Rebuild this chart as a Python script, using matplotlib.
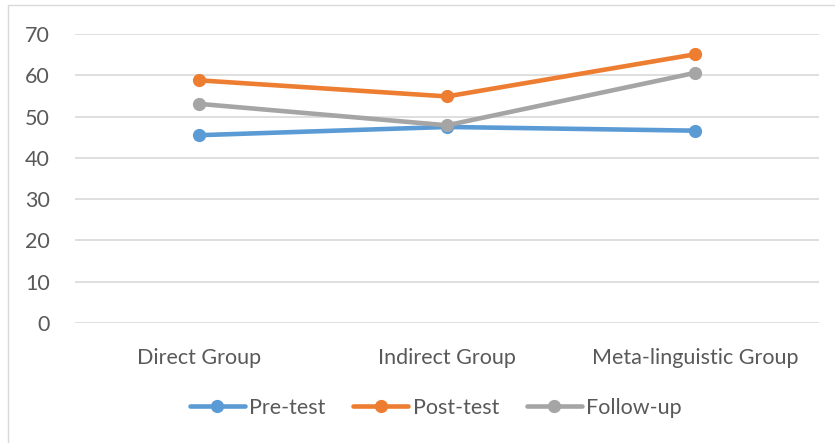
import numpy as np
import matplotlib
matplotlib.use('Agg')
import matplotlib.pyplot as plt
from matplotlib.patches import Rectangle

plt.rcParams['font.family'] = ['Lato', 'DejaVu Sans']

groups = ['Direct Group', 'Indirect Group', 'Meta-linguistic Group']
pre_test = [45.5, 47.5, 46.6]
post_test = [58.8, 54.9, 65.1]
follow_up = [53.1, 47.9, 60.6]

series = [('Pre-test', pre_test, '#5B9BD5'),
          ('Post-test', post_test, '#ED7D31'),
          ('Follow-up', follow_up, '#A5A5A5')]

fig = plt.figure(figsize=(8.35, 4.43), dpi=100)
ax = fig.add_axes([0.0898, 0.271, 0.891, 0.652])

# light chart border like the Excel frame
fig.patches.append(Rectangle((8 / 835, -0.01), 1.0, 1 - 5 / 443 + 0.01,
                             transform=fig.transFigure, fill=False,
                             edgecolor='#D9D9D9', lw=1))

x = np.arange(len(groups))
for name, vals, col in series:
    ax.plot(x, vals, color=col, lw=3.3, marker='o', ms=8.5, label=name,
            solid_capstyle='round', zorder=3)

ax.set_xlim(-0.5, len(groups) - 0.5)
ax.set_ylim(0, 70)
ax.set_yticks(range(0, 71, 10))
ax.set_xticks(x)
ax.set_xticklabels(groups)
ax.yaxis.grid(True, color='#D9D9D9', lw=1.2)
ax.set_axisbelow(True)
for s in ax.spines.values():
    s.set_visible(False)
ax.tick_params(axis='both', length=0, labelsize=15.5, labelcolor='#595959')
ax.tick_params(axis='x', pad=18)
ax.tick_params(axis='y', pad=18)

fig.legend(loc='center', bbox_to_anchor=(0.522, 0.079), ncol=3, frameon=False,
           fontsize=15.5, labelcolor='#595959', handlelength=2.55,
           handletextpad=0.2, columnspacing=1.3)

fig.savefig('out.png', dpi=100)
